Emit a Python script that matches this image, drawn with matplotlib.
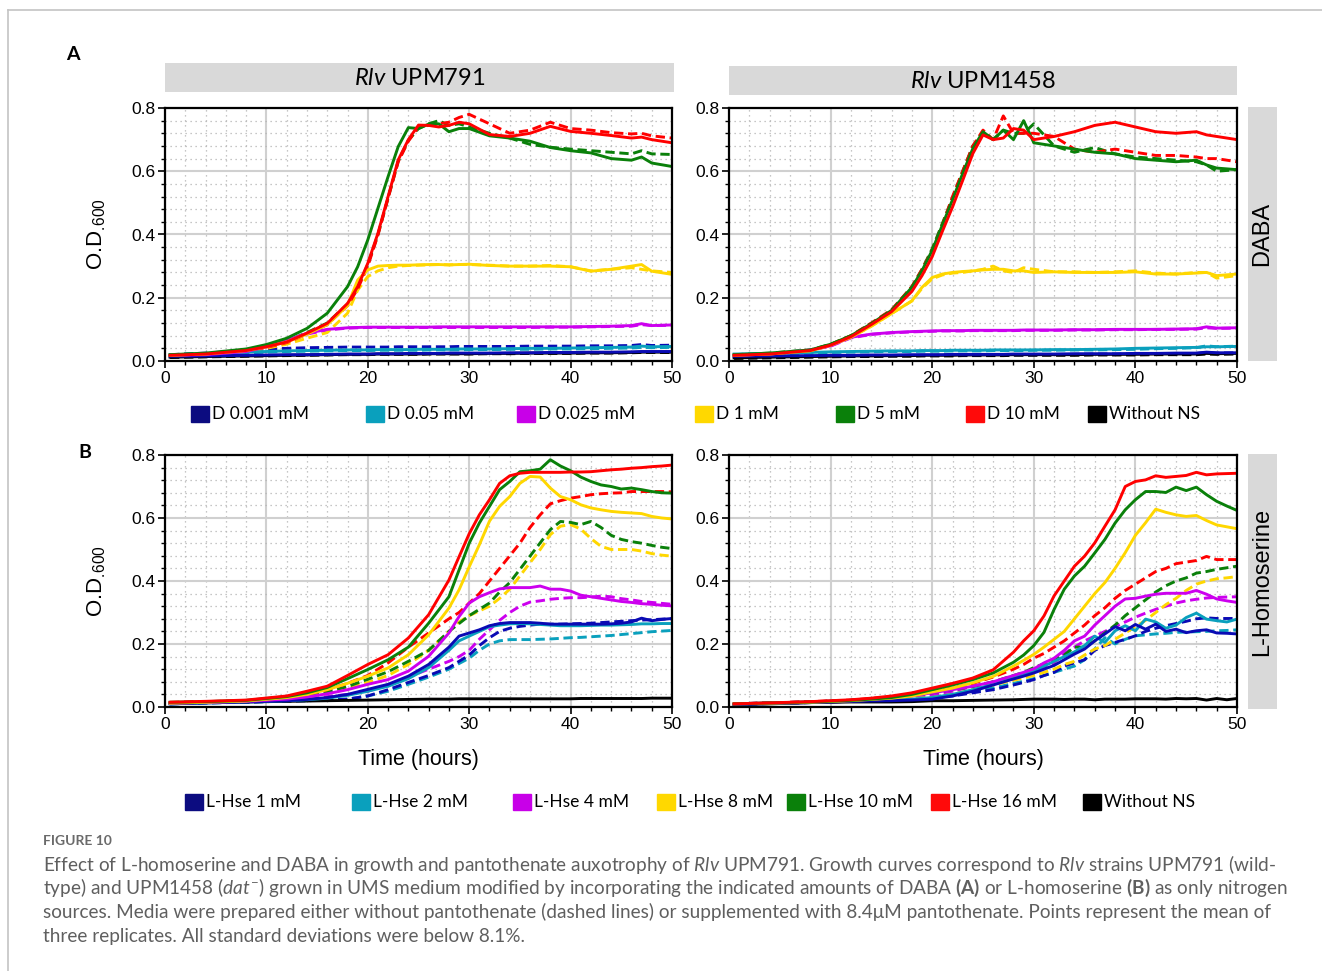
import matplotlib
matplotlib.use('Agg')
import matplotlib.pyplot as plt
from matplotlib.patches import Patch
from matplotlib.ticker import MultipleLocator, FormatStrFormatter

plt.rcParams['font.family'] = ['Liberation Sans', 'DejaVu Sans']
plt.rcParams['mathtext.fontset'] = 'custom'
plt.rcParams['mathtext.it'] = 'Lato:italic'
plt.rcParams['mathtext.bf'] = 'Lato:bold'
plt.rcParams['mathtext.rm'] = 'Lato'

W, H = 1322, 971

# ---- time points (hours) ----
t_a = [0.5, 4, 8, 10, 12, 14, 16, 18,
       19, 20, 21, 22, 23, 24, 25, 26, 27, 28, 29, 30,
       32, 34, 36, 38, 40, 42, 44, 46, 47, 48, 50]
t_b = [0.5, 4, 8, 12, 14, 16, 18, 20, 22, 24, 26,
       28, 29, 30, 31, 32, 33, 34, 35, 36, 37, 38, 39,
       40, 41, 42, 43, 44, 45, 46, 47, 48, 49, 50]

# ---- A: DABA, UPM791 (solid = + pantothenate, _np = without pantothenate) ----
a791_ns = [0.012, 0.014, 0.016, 0.017, 0.018, 0.019, 0.020, 0.021,
           0.021, 0.021, 0.022, 0.022, 0.022, 0.022, 0.022, 0.023, 0.023, 0.023, 0.023, 0.023,
           0.024, 0.024, 0.025, 0.025, 0.025, 0.026, 0.026, 0.027, 0.028, 0.028, 0.028]
a791_ns_np = [0.011, 0.013, 0.015, 0.016, 0.017, 0.018, 0.019, 0.020,
              0.020, 0.020, 0.021, 0.021, 0.021, 0.021, 0.021, 0.022, 0.022, 0.022, 0.022, 0.022,
              0.023, 0.023, 0.024, 0.024, 0.024, 0.025, 0.025, 0.026, 0.027, 0.027, 0.027]
a791_d001 = [0.015, 0.016, 0.018, 0.019, 0.020, 0.020, 0.021, 0.022,
             0.022, 0.022, 0.023, 0.023, 0.023, 0.024, 0.024, 0.024, 0.024, 0.025, 0.025, 0.025,
             0.025, 0.026, 0.026, 0.027, 0.027, 0.028, 0.028, 0.029, 0.030, 0.030, 0.030]
a791_d001_np = [0.020, 0.025, 0.033, 0.038, 0.040, 0.042, 0.043, 0.044,
                0.044, 0.044, 0.044, 0.044, 0.045, 0.045, 0.045, 0.045, 0.045, 0.045, 0.046, 0.046,
                0.046, 0.046, 0.047, 0.047, 0.047, 0.048, 0.048, 0.049, 0.052, 0.049, 0.050]
a791_d005 = [0.020, 0.022, 0.028, 0.030, 0.032, 0.033, 0.034, 0.035,
             0.035, 0.035, 0.036, 0.036, 0.036, 0.036, 0.037, 0.037, 0.037, 0.037, 0.038, 0.038,
             0.038, 0.039, 0.040, 0.040, 0.041, 0.042, 0.043, 0.044, 0.047, 0.045, 0.046]
a791_d005_np = [0.018, 0.020, 0.025, 0.028, 0.030, 0.031, 0.032, 0.033,
                0.033, 0.033, 0.034, 0.034, 0.034, 0.034, 0.034, 0.035, 0.035, 0.035, 0.035, 0.036,
                0.036, 0.037, 0.037, 0.038, 0.038, 0.039, 0.040, 0.041, 0.043, 0.042, 0.043]
a791_d0025 = [0.018, 0.020, 0.030, 0.045, 0.065, 0.088, 0.100, 0.105,
              0.106, 0.107, 0.107, 0.107, 0.107, 0.107, 0.107, 0.107, 0.108, 0.108, 0.108, 0.108,
              0.108, 0.108, 0.108, 0.108, 0.108, 0.109, 0.110, 0.112, 0.118, 0.112, 0.114]
a791_d0025_np = [0.018, 0.020, 0.030, 0.043, 0.062, 0.085, 0.098, 0.104,
                 0.105, 0.106, 0.106, 0.106, 0.106, 0.106, 0.106, 0.106, 0.106, 0.106, 0.106, 0.106,
                 0.106, 0.106, 0.106, 0.107, 0.107, 0.108, 0.109, 0.110, 0.115, 0.112, 0.113]
a791_d1 = [0.018, 0.022, 0.033, 0.045, 0.060, 0.085, 0.115, 0.175,
           0.256, 0.288, 0.300, 0.302, 0.303, 0.303, 0.304, 0.305, 0.305, 0.304, 0.305, 0.306,
           0.302, 0.300, 0.300, 0.300, 0.298, 0.284, 0.290, 0.300, 0.305, 0.284, 0.274]
a791_d1_np = [0.018, 0.021, 0.030, 0.040, 0.053, 0.072, 0.090, 0.151,
              0.224, 0.267, 0.285, 0.295, 0.300, 0.302, 0.303, 0.304, 0.305, 0.304, 0.305, 0.305,
              0.303, 0.300, 0.300, 0.302, 0.298, 0.285, 0.290, 0.295, 0.290, 0.285, 0.280]
a791_d5 = [0.020, 0.025, 0.038, 0.052, 0.072, 0.103, 0.151, 0.235,
           0.298, 0.383, 0.483, 0.583, 0.678, 0.738, 0.735, 0.749, 0.750, 0.725, 0.735, 0.735,
           0.712, 0.705, 0.695, 0.675, 0.665, 0.658, 0.640, 0.635, 0.645, 0.626, 0.615]
a791_d5_np = [0.020, 0.023, 0.034, 0.046, 0.062, 0.090, 0.120, 0.180,
              0.233, 0.305, 0.400, 0.515, 0.632, 0.698, 0.735, 0.750, 0.760, 0.745, 0.750, 0.740,
              0.720, 0.705, 0.685, 0.676, 0.670, 0.665, 0.660, 0.655, 0.665, 0.655, 0.653]
a791_d10 = [0.018, 0.022, 0.033, 0.045, 0.060, 0.088, 0.119, 0.182,
            0.235, 0.309, 0.404, 0.520, 0.636, 0.700, 0.746, 0.745, 0.740, 0.745, 0.755, 0.750,
            0.716, 0.710, 0.720, 0.742, 0.726, 0.720, 0.713, 0.705, 0.708, 0.700, 0.690]
a791_d10_np = [0.018, 0.022, 0.032, 0.043, 0.058, 0.085, 0.115, 0.175,
               0.228, 0.300, 0.398, 0.515, 0.630, 0.695, 0.740, 0.745, 0.750, 0.755, 0.770, 0.780,
               0.750, 0.720, 0.730, 0.755, 0.735, 0.730, 0.722, 0.718, 0.720, 0.712, 0.705]

# ---- A: DABA, UPM1458 ----
a1458_ns = [0.010, 0.012, 0.014, 0.015, 0.016, 0.016, 0.017, 0.017,
            0.018, 0.018, 0.018, 0.018, 0.019, 0.019, 0.019, 0.019, 0.019, 0.020, 0.020, 0.020,
            0.020, 0.020, 0.021, 0.021, 0.021, 0.022, 0.022, 0.022, 0.024, 0.023, 0.024]
a1458_ns_np = [0.008, 0.010, 0.012, 0.013, 0.014, 0.014, 0.015, 0.015,
               0.016, 0.016, 0.016, 0.016, 0.017, 0.017, 0.017, 0.017, 0.017, 0.018, 0.018, 0.018,
               0.018, 0.018, 0.019, 0.019, 0.019, 0.020, 0.020, 0.020, 0.022, 0.021, 0.022]
a1458_d001 = [0.015, 0.016, 0.017, 0.018, 0.018, 0.019, 0.019, 0.020,
              0.020, 0.020, 0.020, 0.021, 0.021, 0.021, 0.021, 0.021, 0.021, 0.022, 0.022, 0.022,
              0.022, 0.023, 0.023, 0.023, 0.024, 0.024, 0.025, 0.025, 0.028, 0.026, 0.026]
a1458_d001_np = [0.012, 0.013, 0.015, 0.016, 0.016, 0.017, 0.017, 0.018,
                 0.018, 0.018, 0.019, 0.019, 0.019, 0.019, 0.019, 0.020, 0.020, 0.020, 0.020, 0.020,
                 0.021, 0.021, 0.022, 0.022, 0.022, 0.023, 0.023, 0.024, 0.027, 0.025, 0.026]
a1458_d005 = [0.022, 0.024, 0.027, 0.029, 0.030, 0.031, 0.032, 0.032,
              0.033, 0.033, 0.033, 0.034, 0.034, 0.034, 0.034, 0.035, 0.035, 0.035, 0.035, 0.035,
              0.036, 0.036, 0.037, 0.038, 0.040, 0.041, 0.042, 0.043, 0.045, 0.045, 0.046]
a1458_d005_np = [0.020, 0.022, 0.025, 0.027, 0.028, 0.029, 0.030, 0.030,
                 0.031, 0.031, 0.031, 0.032, 0.032, 0.032, 0.032, 0.033, 0.033, 0.033, 0.033, 0.034,
                 0.034, 0.035, 0.035, 0.036, 0.037, 0.039, 0.040, 0.042, 0.048, 0.045, 0.047]
a1458_d0025 = [0.018, 0.022, 0.035, 0.048, 0.075, 0.085, 0.090, 0.093,
               0.094, 0.095, 0.096, 0.096, 0.096, 0.097, 0.097, 0.097, 0.097, 0.097, 0.098, 0.098,
               0.098, 0.099, 0.099, 0.100, 0.100, 0.100, 0.101, 0.102, 0.108, 0.104, 0.105]
a1458_d0025_np = [0.018, 0.022, 0.034, 0.047, 0.073, 0.084, 0.089, 0.092,
                  0.093, 0.094, 0.095, 0.095, 0.095, 0.096, 0.096, 0.096, 0.096, 0.096, 0.097, 0.097,
                  0.097, 0.098, 0.098, 0.099, 0.099, 0.100, 0.100, 0.101, 0.105, 0.103, 0.104]
a1458_d1 = [0.018, 0.022, 0.032, 0.050, 0.075, 0.110, 0.150, 0.190,
            0.233, 0.264, 0.275, 0.280, 0.283, 0.285, 0.288, 0.290, 0.290, 0.285, 0.285, 0.280,
            0.282, 0.280, 0.280, 0.280, 0.282, 0.275, 0.275, 0.278, 0.280, 0.270, 0.275]
a1458_d1_np = [0.018, 0.022, 0.032, 0.050, 0.075, 0.110, 0.150, 0.190,
               0.230, 0.260, 0.272, 0.278, 0.280, 0.285, 0.290, 0.300, 0.285, 0.280, 0.295, 0.290,
               0.282, 0.282, 0.280, 0.282, 0.285, 0.278, 0.275, 0.280, 0.280, 0.262, 0.270]
a1458_d5 = [0.020, 0.025, 0.035, 0.053, 0.080, 0.118, 0.160, 0.233,
            0.286, 0.350, 0.430, 0.510, 0.593, 0.672, 0.725, 0.700, 0.730, 0.700, 0.760, 0.690,
            0.680, 0.670, 0.660, 0.655, 0.640, 0.635, 0.630, 0.635, 0.620, 0.610, 0.605]
a1458_d5_np = [0.020, 0.025, 0.035, 0.053, 0.080, 0.118, 0.160, 0.235,
               0.290, 0.355, 0.435, 0.515, 0.600, 0.680, 0.720, 0.700, 0.730, 0.720, 0.720, 0.750,
               0.680, 0.660, 0.675, 0.655, 0.645, 0.640, 0.635, 0.630, 0.620, 0.600, 0.605]
a1458_d10 = [0.018, 0.022, 0.033, 0.050, 0.077, 0.115, 0.156, 0.220,
             0.270, 0.330, 0.410, 0.487, 0.571, 0.656, 0.715, 0.700, 0.705, 0.735, 0.730, 0.700,
             0.710, 0.725, 0.745, 0.755, 0.740, 0.725, 0.720, 0.725, 0.715, 0.710, 0.700]
a1458_d10_np = [0.018, 0.022, 0.033, 0.052, 0.080, 0.120, 0.162, 0.235,
                0.290, 0.350, 0.430, 0.520, 0.600, 0.680, 0.730, 0.700, 0.775, 0.720, 0.720, 0.720,
                0.710, 0.670, 0.660, 0.670, 0.660, 0.650, 0.650, 0.645, 0.640, 0.640, 0.630]

# ---- B: L-homoserine, UPM791 ----
b791_ns = [0.012, 0.014, 0.016, 0.018, 0.019, 0.020, 0.021, 0.022, 0.023, 0.024, 0.025,
           0.025, 0.026, 0.026, 0.026, 0.026, 0.026, 0.026, 0.026, 0.026, 0.026, 0.026, 0.026,
           0.026, 0.027, 0.027, 0.027, 0.027, 0.027, 0.027, 0.027, 0.028, 0.028, 0.028]
b791_h1 = [0.010, 0.013, 0.016, 0.020, 0.024, 0.030, 0.040, 0.056, 0.072, 0.098, 0.135,
           0.190, 0.225, 0.235, 0.245, 0.258, 0.265, 0.268, 0.268, 0.268, 0.266, 0.263, 0.263,
           0.263, 0.263, 0.263, 0.263, 0.264, 0.266, 0.270, 0.282, 0.274, 0.278, 0.281]
b791_h1_np = [0.010, 0.013, 0.015, 0.019, 0.020, 0.022, 0.025, 0.035, 0.055, 0.078, 0.100,
              0.125, 0.145, 0.165, 0.195, 0.220, 0.240, 0.250, 0.256, 0.260, 0.263, 0.263, 0.263,
              0.264, 0.265, 0.266, 0.268, 0.270, 0.272, 0.274, 0.276, 0.277, 0.279, 0.280]
b791_h2 = [0.010, 0.013, 0.016, 0.020, 0.023, 0.028, 0.037, 0.050, 0.066, 0.090, 0.125,
           0.180, 0.210, 0.225, 0.240, 0.255, 0.260, 0.264, 0.265, 0.264, 0.262, 0.260, 0.258,
           0.258, 0.258, 0.259, 0.260, 0.260, 0.261, 0.262, 0.264, 0.264, 0.265, 0.265]
b791_h2_np = [0.010, 0.013, 0.015, 0.019, 0.020, 0.022, 0.025, 0.035, 0.050, 0.072, 0.095,
              0.120, 0.138, 0.155, 0.180, 0.200, 0.210, 0.214, 0.214, 0.214, 0.215, 0.216, 0.218,
              0.220, 0.221, 0.223, 0.225, 0.227, 0.230, 0.233, 0.236, 0.239, 0.241, 0.243]
b791_h4 = [0.012, 0.015, 0.018, 0.025, 0.032, 0.042, 0.055, 0.072, 0.087, 0.114, 0.161,
           0.235, 0.287, 0.330, 0.350, 0.363, 0.375, 0.379, 0.379, 0.379, 0.384, 0.374, 0.374,
           0.368, 0.355, 0.350, 0.345, 0.340, 0.335, 0.332, 0.328, 0.326, 0.323, 0.321]
b791_h4_np = [0.012, 0.015, 0.018, 0.024, 0.028, 0.033, 0.040, 0.050, 0.070, 0.095, 0.120,
              0.145, 0.160, 0.180, 0.215, 0.245, 0.275, 0.300, 0.320, 0.333, 0.337, 0.342, 0.345,
              0.347, 0.347, 0.349, 0.352, 0.350, 0.344, 0.340, 0.335, 0.332, 0.329, 0.326]
b791_h8 = [0.012, 0.015, 0.019, 0.030, 0.040, 0.055, 0.075, 0.098, 0.124, 0.166, 0.229,
           0.314, 0.372, 0.445, 0.515, 0.590, 0.637, 0.668, 0.710, 0.732, 0.730, 0.695, 0.668,
           0.658, 0.642, 0.632, 0.626, 0.621, 0.618, 0.616, 0.614, 0.605, 0.600, 0.597]
b791_h8_np = [0.012, 0.015, 0.018, 0.025, 0.032, 0.043, 0.058, 0.078, 0.100, 0.135, 0.180,
              0.240, 0.270, 0.290, 0.305, 0.320, 0.345, 0.374, 0.416, 0.458, 0.500, 0.547, 0.574,
              0.579, 0.565, 0.535, 0.510, 0.500, 0.500, 0.500, 0.495, 0.487, 0.482, 0.479]
b791_h10 = [0.015, 0.017, 0.021, 0.033, 0.045, 0.062, 0.090, 0.119, 0.150, 0.190, 0.266,
            0.350, 0.435, 0.520, 0.584, 0.637, 0.690, 0.716, 0.747, 0.750, 0.755, 0.785, 0.765,
            0.750, 0.730, 0.716, 0.705, 0.700, 0.692, 0.695, 0.690, 0.684, 0.680, 0.679]
b791_h10_np = [0.013, 0.016, 0.019, 0.028, 0.036, 0.048, 0.065, 0.088, 0.112, 0.145, 0.180,
               0.240, 0.265, 0.290, 0.310, 0.330, 0.365, 0.395, 0.437, 0.479, 0.521, 0.563, 0.589,
               0.586, 0.579, 0.589, 0.570, 0.545, 0.532, 0.525, 0.520, 0.513, 0.507, 0.503]
b791_h16 = [0.015, 0.018, 0.022, 0.035, 0.050, 0.066, 0.100, 0.135, 0.166, 0.219, 0.293,
            0.403, 0.477, 0.550, 0.610, 0.658, 0.710, 0.734, 0.742, 0.745, 0.745, 0.745, 0.745,
            0.746, 0.746, 0.747, 0.750, 0.753, 0.755, 0.758, 0.760, 0.763, 0.765, 0.768]
b791_h16_np = [0.015, 0.017, 0.020, 0.030, 0.040, 0.055, 0.075, 0.100, 0.140, 0.190, 0.235,
               0.280, 0.300, 0.330, 0.360, 0.400, 0.440, 0.480, 0.520, 0.570, 0.610, 0.645, 0.655,
               0.663, 0.668, 0.674, 0.677, 0.679, 0.680, 0.684, 0.684, 0.684, 0.684, 0.683]

# ---- B: L-homoserine, UPM1458 ----
b1458_ns = [0.008, 0.010, 0.014, 0.016, 0.016, 0.016, 0.017, 0.020, 0.020, 0.021, 0.022,
            0.023, 0.024, 0.025, 0.025, 0.025, 0.024, 0.025, 0.025, 0.023, 0.025, 0.025, 0.025,
            0.026, 0.026, 0.026, 0.025, 0.027, 0.026, 0.027, 0.022, 0.027, 0.023, 0.027]
b1458_h1 = [0.008, 0.011, 0.014, 0.018, 0.019, 0.020, 0.022, 0.025, 0.035, 0.050, 0.070,
            0.089, 0.098, 0.108, 0.120, 0.132, 0.150, 0.168, 0.184, 0.210, 0.232, 0.255, 0.242,
            0.262, 0.247, 0.263, 0.240, 0.247, 0.236, 0.242, 0.245, 0.235, 0.234, 0.232]
b1458_h1_np = [0.008, 0.011, 0.014, 0.018, 0.019, 0.020, 0.022, 0.030, 0.035, 0.045, 0.055,
               0.070, 0.078, 0.087, 0.100, 0.110, 0.130, 0.140, 0.150, 0.180, 0.195, 0.205, 0.215,
               0.226, 0.240, 0.250, 0.258, 0.265, 0.272, 0.280, 0.283, 0.281, 0.281, 0.281]
b1458_h2 = [0.009, 0.012, 0.015, 0.019, 0.021, 0.023, 0.025, 0.030, 0.040, 0.055, 0.072,
            0.093, 0.104, 0.115, 0.130, 0.145, 0.160, 0.175, 0.195, 0.225, 0.205, 0.242, 0.258,
            0.242, 0.279, 0.270, 0.250, 0.260, 0.284, 0.298, 0.279, 0.274, 0.270, 0.279]
b1458_h2_np = [0.009, 0.012, 0.015, 0.019, 0.021, 0.024, 0.028, 0.035, 0.040, 0.050, 0.060,
               0.075, 0.082, 0.090, 0.100, 0.110, 0.120, 0.130, 0.150, 0.184, 0.220, 0.200, 0.215,
               0.226, 0.229, 0.232, 0.234, 0.237, 0.238, 0.239, 0.240, 0.242, 0.243, 0.245]
b1458_h4 = [0.010, 0.013, 0.016, 0.021, 0.025, 0.030, 0.035, 0.045, 0.055, 0.066, 0.080,
            0.100, 0.110, 0.121, 0.140, 0.155, 0.180, 0.210, 0.225, 0.260, 0.290, 0.320, 0.343,
            0.345, 0.352, 0.358, 0.361, 0.361, 0.361, 0.370, 0.358, 0.343, 0.337, 0.332]
b1458_h4_np = [0.010, 0.013, 0.016, 0.021, 0.025, 0.030, 0.035, 0.040, 0.050, 0.065, 0.080,
               0.095, 0.103, 0.110, 0.125, 0.140, 0.170, 0.190, 0.210, 0.225, 0.240, 0.255, 0.270,
               0.285, 0.298, 0.310, 0.320, 0.330, 0.337, 0.342, 0.346, 0.348, 0.349, 0.350]
b1458_h8 = [0.010, 0.012, 0.015, 0.020, 0.024, 0.028, 0.035, 0.048, 0.060, 0.077, 0.097,
            0.130, 0.148, 0.167, 0.190, 0.215, 0.240, 0.280, 0.320, 0.360, 0.395, 0.440, 0.490,
            0.545, 0.585, 0.628, 0.618, 0.610, 0.605, 0.608, 0.592, 0.578, 0.572, 0.566]
b1458_h8_np = [0.010, 0.012, 0.015, 0.019, 0.021, 0.024, 0.027, 0.030, 0.040, 0.055, 0.070,
               0.085, 0.092, 0.100, 0.110, 0.120, 0.135, 0.145, 0.165, 0.184, 0.195, 0.215, 0.235,
               0.255, 0.275, 0.300, 0.325, 0.345, 0.370, 0.390, 0.400, 0.407, 0.410, 0.414]
b1458_h10 = [0.010, 0.013, 0.016, 0.021, 0.025, 0.030, 0.040, 0.055, 0.070, 0.087, 0.108,
             0.142, 0.165, 0.195, 0.237, 0.310, 0.374, 0.416, 0.447, 0.489, 0.532, 0.584, 0.626,
             0.658, 0.684, 0.684, 0.681, 0.698, 0.687, 0.698, 0.674, 0.653, 0.638, 0.624]
b1458_h10_np = [0.010, 0.013, 0.016, 0.021, 0.025, 0.030, 0.037, 0.045, 0.055, 0.065, 0.080,
                0.100, 0.110, 0.125, 0.137, 0.150, 0.165, 0.190, 0.190, 0.210, 0.235, 0.260, 0.290,
                0.315, 0.340, 0.365, 0.385, 0.400, 0.410, 0.425, 0.430, 0.437, 0.442, 0.447]
b1458_h16 = [0.010, 0.013, 0.017, 0.023, 0.028, 0.035, 0.045, 0.060, 0.075, 0.092, 0.118,
             0.174, 0.210, 0.242, 0.289, 0.353, 0.400, 0.447, 0.479, 0.521, 0.574, 0.626, 0.700,
             0.716, 0.721, 0.734, 0.729, 0.732, 0.735, 0.745, 0.737, 0.740, 0.741, 0.742]
b1458_h16_np = [0.010, 0.013, 0.017, 0.022, 0.027, 0.033, 0.040, 0.050, 0.060, 0.075, 0.095,
                0.120, 0.135, 0.155, 0.170, 0.190, 0.210, 0.235, 0.260, 0.290, 0.315, 0.345, 0.370,
                0.390, 0.410, 0.430, 0.440, 0.455, 0.460, 0.465, 0.478, 0.468, 0.468, 0.468]

# legend labels and colours (legend order)
labels_a = ['D 0.001 mM', 'D 0.05 mM', 'D 0.025 mM', 'D 1 mM', 'D 5 mM', 'D 10 mM', 'Without NS']
labels_b = ['L-Hse 1 mM', 'L-Hse 2 mM', 'L-Hse 4 mM', 'L-Hse 8 mM', 'L-Hse 10 mM', 'L-Hse 16 mM', 'Without NS']
line_colors = ['#0a0ab4', '#0aa0bd', '#cc00ee', '#ffd700', '#0a800a', '#ff0000', '#000000']
legend_colors = ['#0c0c80', '#0aa0bd', '#c800e8', '#ffd800', '#0a800a', '#ff0a0a', '#000000']

LW = 2.1
DASH = (0, (3.2, 1.6))

fig = plt.figure(figsize=(W / 100, H / 100), dpi=100)


def box(x0, y0, x1, y1):
    # pixel box -> figure fraction rect
    return [x0 / W, 1 - y1 / H, (x1 - x0) / W, (y1 - y0) / H]


ax_a1 = fig.add_axes(box(165, 108, 672, 361))
ax_a2 = fig.add_axes(box(729, 108, 1237, 361))
ax_b1 = fig.add_axes(box(165, 455, 672, 707))
ax_b2 = fig.add_axes(box(729, 455, 1237, 707))

panels = [
    (ax_a1, t_a, [a791_d001, a791_d005, a791_d0025, a791_d1, a791_d5, a791_d10, a791_ns],
     [a791_d001_np, a791_d005_np, a791_d0025_np, a791_d1_np, a791_d5_np, a791_d10_np, a791_ns_np]),
    (ax_a2, t_a, [a1458_d001, a1458_d005, a1458_d0025, a1458_d1, a1458_d5, a1458_d10, a1458_ns],
     [a1458_d001_np, a1458_d005_np, a1458_d0025_np, a1458_d1_np, a1458_d5_np, a1458_d10_np, a1458_ns_np]),
    (ax_b1, t_b, [b791_h1, b791_h2, b791_h4, b791_h8, b791_h10, b791_h16, b791_ns],
     [b791_h1_np, b791_h2_np, b791_h4_np, b791_h8_np, b791_h10_np, b791_h16_np, None]),
    (ax_b2, t_b, [b1458_h1, b1458_h2, b1458_h4, b1458_h8, b1458_h10, b1458_h16, b1458_ns],
     [b1458_h1_np, b1458_h2_np, b1458_h4_np, b1458_h8_np, b1458_h10_np, b1458_h16_np, None]),
]

draw_order = [6, 1, 0, 2, 3, 4, 5]   # black first, cyan under blue, red on top

for ax, t, solid, dashed in panels:
    ax.set_xlim(0, 50)
    ax.set_ylim(0, 0.8)
    ax.xaxis.set_major_locator(MultipleLocator(10))
    ax.xaxis.set_minor_locator(MultipleLocator(2))
    ax.yaxis.set_major_locator(MultipleLocator(0.2))
    ax.yaxis.set_minor_locator(MultipleLocator(0.04))
    ax.yaxis.set_major_formatter(FormatStrFormatter('%.1f'))
    ax.grid(which='major', color='#d0d0d0', lw=1.5)
    ax.grid(which='minor', color='#b4b4b4', lw=0.9, ls=(0, (1, 3)))
    ax.set_axisbelow(True)
    ax.tick_params(which='major', direction='out', length=5, width=1.2, labelsize=12.5, pad=2)
    ax.tick_params(which='minor', direction='out', length=3, width=1.0)
    for sp in ax.spines.values():
        sp.set_linewidth(1.6)
        sp.set_color('black')
    for i in draw_order:
        if dashed[i] is not None:
            ax.plot(t, dashed[i], color=line_colors[i], lw=LW, ls=DASH)
    for i in draw_order:
        ax.plot(t, solid[i], color=line_colors[i], lw=LW)

for ax in (ax_a1, ax_b1):
    ax.set_ylabel(r'O.D$_{\mathregular{.\!600}}$', fontsize=16)
    ax.yaxis.set_label_coords(-0.113, 0.5)
for ax in (ax_b1, ax_b2):
    ax.set_xlabel('Time (hours)', fontsize=15.5)
    ax.xaxis.set_label_coords(0.5, -0.21)
    ax.xaxis.label.set_va('center')

# strip headers
for rect, txt in [(box(165, 63, 674, 92), r'$\it{Rlv}$ UPM791'),
                  (box(729, 66, 1237, 95), r'$\it{Rlv}$ UPM1458')]:
    s = fig.add_axes(rect)
    s.set_facecolor('#d9d9d9')
    s.set_xticks([]); s.set_yticks([])
    for sp in s.spines.values():
        sp.set_visible(False)
    s.text(0.5, 0.45, txt, ha='center', va='center', fontsize=17, family='Lato')

for rect, txt in [(box(1248, 107, 1277, 361), 'DABA'),
                  (box(1248, 454, 1277, 709), 'L-Homoserine')]:
    s = fig.add_axes(rect)
    s.set_facecolor('#d9d9d9')
    s.set_xticks([]); s.set_yticks([])
    for sp in s.spines.values():
        sp.set_visible(False)
    s.text(0.5, 0.5, txt, ha='center', va='center', rotation=90, fontsize=17)

# legends (one entry each, placed like the original row)
leg_a_x = [191, 366, 517, 695, 836, 966, 1088]
leg_b_x = [185, 352, 513, 657, 787, 931, 1083]
for labels, xs, yc in [(labels_a, leg_a_x, 414), (labels_b, leg_b_x, 802)]:
    for lab, c, x in zip(labels, legend_colors, xs):
        fig.legend(handles=[Patch(facecolor=c, edgecolor=c)], labels=[lab],
                   loc='center left', bbox_to_anchor=(x / W, 1 - yc / H),
                   frameon=False, handlelength=1.05, handleheight=1.05,
                   handletextpad=0.15, borderpad=0, borderaxespad=0,
                   prop={'family': 'Lato', 'size': 12.5})

# panel letters
fig.text(73 / W, 1 - 55 / H, 'A', fontsize=14, weight='bold', family='Lato', ha='center', va='center')
fig.text(85 / W, 1 - 453 / H, 'B', fontsize=14, weight='bold', family='Lato', ha='center', va='center')

# figure frame lines
fig.add_artist(plt.Line2D([8 / W, 1], [1 - 10 / H, 1 - 10 / H], color='#c4c4c4', lw=1.2))
fig.add_artist(plt.Line2D([8 / W, 8 / W], [0, 1 - 10 / H], color='#c4c4c4', lw=1.2))

# caption
cap_color = '#5f5f5f'
fig.text(43 / W, 1 - 841 / H, 'FIGURE 10', fontsize=10, weight='bold', family='Lato',
         color='#6a6a6a', va='center')
caption = [
    r'Effect of L-homoserine and DABA in growth and pantothenate auxotrophy of $\it{Rlv}$ UPM791. '
    r'Growth curves correspond to $\it{Rlv}$ strains UPM791 (wild-',
    r'type) and UPM1458 ($\it{dat}^{-}$) grown in UMS medium modified by incorporating the indicated '
    r'amounts of DABA $\bf{(A)}$ or L-homoserine $\bf{(B)}$ as only nitrogen',
    'sources. Media were prepared either without pantothenate (dashed lines) or supplemented with '
    '8.4\u03bcM pantothenate. Points represent the mean of',
    'three replicates. All standard deviations were below 8.1%.',
]
for k, line in enumerate(caption):
    fig.text(43 / W, 1 - (864 + 24 * k) / H, line, fontsize=13.7, family=['Lato', 'DejaVu Sans'],
             color=cap_color, va='center')

fig.savefig('out.png', dpi=100)
